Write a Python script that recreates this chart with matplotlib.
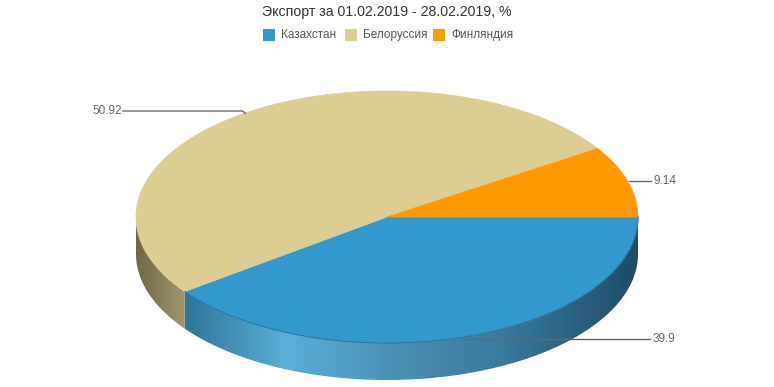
import numpy as np
import matplotlib.pyplot as plt
from matplotlib.patches import Polygon
from matplotlib.colors import to_rgb

plt.rcParams['font.family'] = ['Liberation Sans', 'DejaVu Sans']

# data
countries = ["Казахстан", "Белоруссия", "Финляндия"]
shares = [39.9, 50.92, 9.14]
colors = ["#3399cc", "#dccd93", "#ff9900"]
title = "Экспорт за 01.02.2019 - 28.02.2019, %"

fig = plt.figure(figsize=(7.74, 3.87), dpi=100)
ax = fig.add_axes([0, 0, 1, 1])
ax.set_xlim(0, 774)
ax.set_ylim(387, 0)
ax.axis("off")

# pie geometry in pixels
cx, cy, rx, ry, depth = 387, 217, 251, 126, 37

def pt(t):
    r = np.radians(t)
    return cx + rx * np.cos(r), cy - ry * np.sin(r)

total = sum(shares)
starts, ends = [], []
a = 0.0
for s in shares:
    starts.append(a)
    a -= s / total * 360  # clockwise from 3 o'clock
    ends.append(a)

# side shading, colour by x position
side_stops = {
    0: [(136, "#2b6f93"), (186, "#2f7699"), (285, "#5aaed8"), (400, "#4a8fb3"),
        (500, "#3b7a9b"), (640, "#1d4c66")],
    1: [(136, "#6f6748"), (190, "#a69b72")],
    2: [(136, "#b36b00"), (640, "#b36b00")],
}

xs = np.arange(774) + 0.5
for i in range(len(shares)):
    lo = max(ends[i], -180)
    hi = min(starts[i], 0)
    if lo >= hi:
        continue
    ts = np.linspace(hi, lo, 120)
    top = [pt(t) for t in ts]
    bot = [(x, y + depth) for x, y in top[::-1]]
    poly = Polygon(top + bot, closed=True, facecolor="none", edgecolor="none")
    ax.add_patch(poly)
    sx = [p[0] for p in side_stops[i]]
    sc = np.array([to_rgb(p[1]) for p in side_stops[i]])
    img = np.stack([np.interp(xs, sx, sc[:, k]) for k in range(3)], axis=-1)
    img = np.repeat(img[None, :, :], 2, axis=0)
    im = ax.imshow(img, extent=(0, 774, 387, 0), aspect="auto", interpolation="bilinear")
    im.set_clip_path(poly)

# top faces
for i in range(len(shares)):
    ts = np.linspace(starts[i], ends[i], 200)
    verts = [(cx, cy)] + [pt(t) for t in ts]
    ax.add_patch(Polygon(verts, closed=True, facecolor=colors[i], edgecolor=colors[i], lw=0.5))

# thin edge between top and side
ts = np.linspace(0, -143.6, 200)
ax.plot([pt(t)[0] for t in ts], [pt(t)[1] for t in ts], color="#2a7aa6", lw=0.8)
ax.set_xlim(0, 774)
ax.set_ylim(387, 0)

# data labels
lab_color = "#666666"
label_pos = [(653, 339, "left"), (122, 111, "right"), (654, 181, "left")]
for i in range(len(shares)):
    mid = (starts[i] + ends[i]) / 2
    ax_, ay_ = pt(mid)
    lx, ly, ha = label_pos[i]
    txt = f"{shares[i]:g}"
    if ha == "left":
        ax.plot([ax_ + 1, lx - 3], [ly, ly], color=lab_color, lw=1)
    else:
        ax.plot([ax_ + 1, ax_ - 2, lx + 1], [ay_, ly, ly], color=lab_color, lw=1)
    ax.text(lx, ly, txt, ha=ha, va="center", fontsize=8.5, color=lab_color)

# title and legend
ax.text(387, 12, title, ha="center", va="center", fontsize=10.2, color="#333333")
leg_x = [263, 345, 433]
for i in range(len(countries)):
    ax.add_patch(Polygon([(leg_x[i], 29), (leg_x[i] + 12, 29), (leg_x[i] + 12, 41), (leg_x[i], 41)],
                         closed=True, facecolor=colors[i], edgecolor="none"))
    ax.text(leg_x[i] + 18, 35, countries[i], ha="left", va="center", fontsize=8.5, color="#555555")

plt.savefig("out.png", dpi=100)
